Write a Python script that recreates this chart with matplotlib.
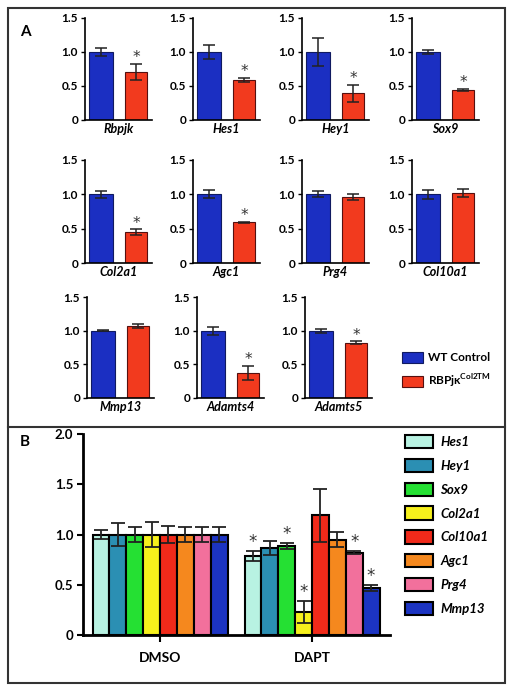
import matplotlib
matplotlib.use("Agg")
from matplotlib import pyplot as plt
from matplotlib.patches import Rectangle
from matplotlib.lines import Line2D

# Panel A: qPCR, WT vs RBPjk cKO
genes_a = ["Rbpjk", "Hes1", "Hey1", "Sox9", "Col2a1", "Agc1", "Prg4", "Col10a1",
           "Mmp13", "Adamts4", "Adamts5"]
wt_mean = [1.0, 1.0, 1.0, 1.0, 1.0, 1.0, 1.0, 1.0, 1.0, 1.0, 1.0]
wt_err = [0.06, 0.10, 0.20, 0.035, 0.05, 0.06, 0.045, 0.065, 0.005, 0.06, 0.03]
mut_mean = [0.71, 0.59, 0.39, 0.44, 0.45, 0.59, 0.96, 1.02, 1.07, 0.37, 0.82]
mut_err = [0.12, 0.03, 0.13, 0.02, 0.04, 0.01, 0.04, 0.06, 0.03, 0.11, 0.02]
mut_sig = [True, True, True, True, True, True, False, False, False, True, True]

# Panel B: DMSO vs DAPT
genes_b = ["Hes1", "Hey1", "Sox9", "Col2a1", "Col10a1", "Agc1", "Prg4", "Mmp13"]
groups_b = ["DMSO", "DAPT"]
dmso_mean = [1.0, 1.0, 1.0, 1.0, 1.0, 1.0, 1.0, 1.0]
dmso_err = [0.04, 0.11, 0.07, 0.12, 0.08, 0.07, 0.075, 0.075]
dapt_mean = [0.79, 0.87, 0.89, 0.23, 1.19, 0.95, 0.82, 0.47]
dapt_err = [0.05, 0.07, 0.03, 0.11, 0.26, 0.07, 0.015, 0.03]
dapt_sig = [True, False, True, True, False, False, True, True]
colors_b = ["#b8f2e2", "#2b8fb3", "#25e033", "#f6f01c", "#f02a1a", "#f5881e",
            "#f2709c", "#1c34c2"]

W, H = 512, 692
plt.rcParams["font.family"] = ["Lato", "DejaVu Sans"]
plt.rcParams["font.weight"] = "bold"
plt.rcParams["mathtext.fontset"] = "custom"
plt.rcParams["mathtext.rm"] = "Lato"


def px_axes(fig, left, top, right, bottom):
    return fig.add_axes([left / W, 1 - bottom / H, (right - left) / W, (bottom - top) / H])


def main():
    fig = plt.figure(figsize=(W / 100, H / 100), dpi=100)

    # frames
    fig.patches.append(Rectangle((8 / W, 1 - 683 / H), 497 / W, 675 / H, transform=fig.transFigure,
                                 fill=False, edgecolor="#333333", linewidth=1.5))
    fig.lines.append(Line2D([8 / W, 505 / W], [1 - 427 / H] * 2, transform=fig.transFigure,
                            color="#333333", linewidth=1.5))
    fig.text(25 / W, 1 - 32 / H, "A", fontsize=11, fontweight="bold", va="center", ha="center")
    fig.text(25 / W, 1 - 442 / H, "B", fontsize=11, fontweight="bold", va="center", ha="center")

    # ---- Panel A
    rows = [(18, 120), (160, 263), (297, 398)]
    cols = [[85, 193, 302, 412], [85, 193, 302, 412], [87, 197, 305]]
    k = 0
    bars = None
    for r, (top, bottom) in enumerate(rows):
        for left in cols[r]:
            ax = px_axes(fig, left, top, left + 67, bottom)
            b1 = ax.bar(0, wt_mean[k], 0.68, yerr=wt_err[k], color="#1b2fc2", edgecolor="#101a60",
                        linewidth=0.8, capsize=4.5, error_kw=dict(elinewidth=1.1, capthick=1.1, ecolor="#222222"))
            b2 = ax.bar(1, mut_mean[k], 0.62, yerr=mut_err[k], color="#f23a1e", edgecolor="#551010",
                        linewidth=0.8, capsize=4.5, error_kw=dict(elinewidth=1.1, capthick=1.1, ecolor="#222222"))
            if mut_sig[k]:
                ax.text(1, mut_mean[k] + mut_err[k] - 0.02, "*", ha="center", va="bottom",
                        fontsize=11, fontweight="normal", color="#333333", family="DejaVu Sans")
            ax.set_xlim(-0.44, 1.45)
            ax.set_ylim(0, 1.5)
            ax.set_yticks([0, 0.5, 1.0, 1.5])
            ax.set_yticklabels(["0", "0.5", "1.0", "1.5"])
            ax.set_xticks([])
            ax.set_xlabel(genes_a[k], fontsize=9, fontstyle="italic", fontweight="bold", labelpad=2)
            ax.tick_params(axis="y", direction="out", length=3, width=1, pad=2, labelsize=8.5)
            for s in ["top", "right"]:
                ax.spines[s].set_visible(False)
            for s in ["left", "bottom"]:
                ax.spines[s].set_linewidth(1.2)
            bars = (b1, b2)
            k += 1

    fig.legend(bars, ["WT Control", r"RBPjκ$^{\mathrm{Col2TM}}$"], loc="upper left",
               bbox_to_anchor=(391 / W, 1 - 341 / H), frameon=False, fontsize=8.5,
               handlelength=1.8, handleheight=1.1, handletextpad=0.4, labelspacing=0.75)

    # ---- Panel B
    axb = px_axes(fig, 83, 434, 390, 635)
    wb = 0.111
    n = len(genes_b)
    handles = []
    for i in range(n):
        off = (i - (n - 1) / 2) * wb
        h = axb.bar([0 + off, 1 + off], [dmso_mean[i], dapt_mean[i]], wb,
                    yerr=[dmso_err[i], dapt_err[i]], color=colors_b[i], edgecolor="black",
                    linewidth=1.5, capsize=5, error_kw=dict(elinewidth=1.3, capthick=1.3, ecolor="#222222"),
                    label=genes_b[i])
        handles.append(h)
        if dapt_sig[i]:
            axb.text(1 + off, dapt_mean[i] + dapt_err[i] + 0.0, "*", ha="center", va="bottom",
                     fontsize=12, fontweight="normal", color="#333333", family="DejaVu Sans")
    axb.set_xlim(-0.507, 1.513)
    axb.set_ylim(0, 2.0)
    axb.set_yticks([0, 0.5, 1.0, 1.5, 2.0])
    axb.set_yticklabels(["0", "0.5", "1.0", "1.5", "2.0"])
    axb.set_xticks([0, 1])
    axb.set_xticklabels(groups_b)
    axb.tick_params(axis="y", direction="out", length=4, width=1.5, pad=3, labelsize=9.5)
    axb.tick_params(axis="x", direction="out", length=5, width=1.5, pad=7, labelsize=10)
    for s in ["top", "right"]:
        axb.spines[s].set_visible(False)
    for s in ["left", "bottom"]:
        axb.spines[s].set_linewidth(2)

    leg = fig.legend(handles, genes_b, loc="upper left", bbox_to_anchor=(393 / W, 1 - 423 / H),
                     frameon=False, fontsize=9.5, handlelength=2.1, handleheight=1.2,
                     handletextpad=0.6, labelspacing=0.78)
    for t in leg.get_texts():
        t.set_fontstyle("italic")

    fig.savefig("out.png", dpi=100)


if __name__ == "__main__":
    main()
